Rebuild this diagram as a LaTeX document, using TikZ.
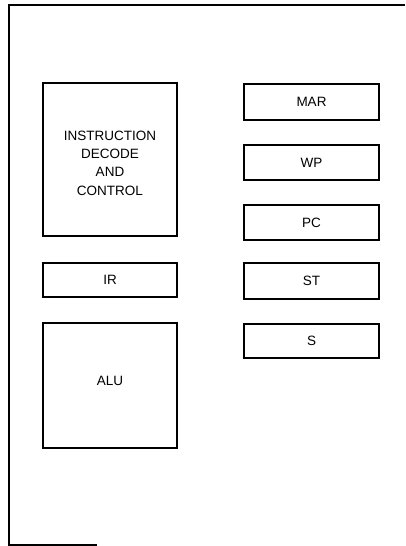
\documentclass[tikz,border=0pt]{standalone}
\usepackage{fontspec}
\setmainfont{Liberation Sans}
\begin{document}
\begin{tikzpicture}[x=1pt,y=-1pt,
  frame/.style={line width=1.5pt},
  blk/.style={draw,line width=1.3pt,rectangle,inner sep=0pt,align=center,
    font=\fontsize{13.5}{18.3}\selectfont},
  lbl/.style={inner sep=0pt,align=center,font=\fontsize{13.5}{18.3}\selectfont}]
\useasboundingbox (0,0) rectangle (405,546);
% open frame
\coordinate (tr) at (405,5);
\coordinate (tl) at (9,5);
\coordinate (bl) at (9,545);
\coordinate (br) at (97,545);
\draw[frame] (tr) -- (tl) -- (bl) -- (br);
% left column
\node[blk,minimum width=134,minimum height=153] (idc) at (110,159.5) {};
\node[lbl] (idct) at (110,163) {INSTRUCTION\\DECODE\\AND\\CONTROL};
\node[blk,minimum width=134,minimum height=34] (ir) at (110,280) {IR};
\node[blk,minimum width=134,minimum height=125] (alu) at (110,385.5) {};
\node[lbl] (alut) at (110,381) {ALU};
% right column
\node[blk,minimum width=135,minimum height=36] (mar) at (311.5,102) {MAR};
\node[blk,minimum width=135,minimum height=35] (wp) at (311.5,162.5) {WP};
\node[blk,minimum width=135,minimum height=35] (pc) at (311.5,222.5) {PC};
\node[blk,minimum width=135,minimum height=36] (st) at (311.5,281) {ST};
\node[blk,minimum width=135,minimum height=34] (s) at (311.5,341) {S};
\end{tikzpicture}
\end{document}
